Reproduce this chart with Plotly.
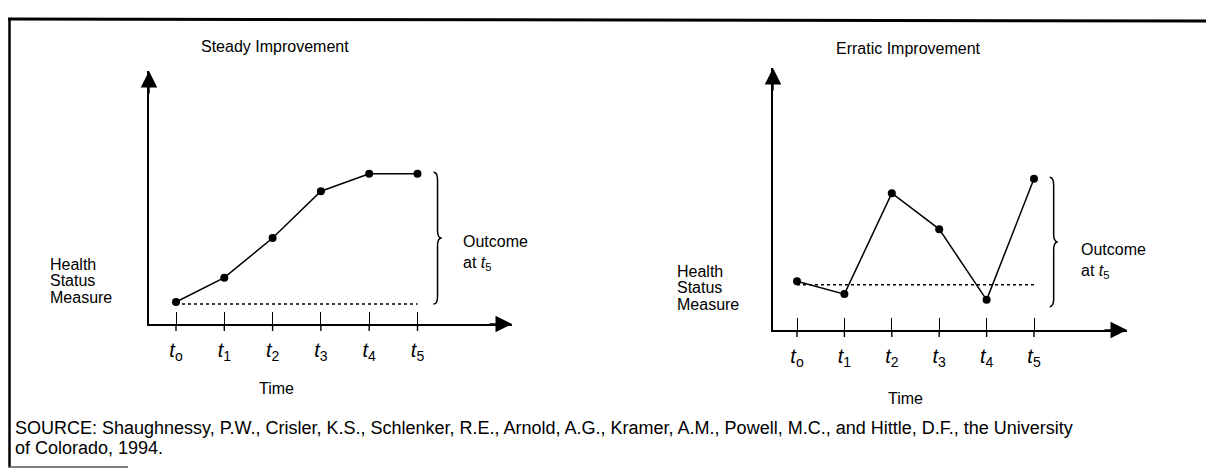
import plotly.graph_objects as go

# ---- data ----
time_labels = ["<i>t</i><sub>o</sub>", "<i>t</i><sub>1</sub>", "<i>t</i><sub>2</sub>",
               "<i>t</i><sub>3</sub>", "<i>t</i><sub>4</sub>", "<i>t</i><sub>5</sub>"]
time_index = [0, 1, 2, 3, 4, 5]
steady_values = [8.7, 18.3, 34.0, 52.5, 59.4, 59.4]
erratic_values = [18.6, 13.7, 52.2, 38.5, 11.5, 57.7]
steady_baseline = 7.9
erratic_baseline = 17.3
panel_titles = ["Steady Improvement", "Erratic Improvement"]
y_label_lines = ["Health", "Status", "Measure"]
outcome_label = "Outcome<br>at <i>t</i><sub>5</sub>"
x_label = "Time"
source_lines = ["SOURCE: Shaughnessy, P.W., Crisler, K.S., Schlenker, R.E., Arnold, A.G., Kramer, A.M., "
                "Powell, M.C., and Hittle, D.F., the University",
                "of Colorado, 1994."]

W, H = 1214, 472
FONT = "Liberation Sans, Arial, sans-serif"
INK = "#000000"


def px(x):
    return x / W


def py(y):
    return 1 - y / H


fig = go.Figure()

# panel geometry (pixels)
panels = [
    dict(vals=steady_values, base=steady_baseline, yx=141, xy=316, tipx=504, topy=63,
         t0=168, dx=48.3, xa="x", ya="y", title_x=267, title_y=38, hx=40, hy=256,
         ox=453, oy=245, time_x=268, time_y=380, brace_pad=0.0),
    dict(vals=erratic_values, base=erratic_baseline, yx=765, xy=322, tipx=1119, topy=60,
         t0=789, dx=47.4, xa="x2", ya="y2", title_x=900, title_y=40, hx=667, hy=263,
         ox=1071, oy=253, time_x=897, time_y=390, brace_pad=2.6),
]

ymax = 100.0
for i, p in enumerate(panels):
    xr = [(p["yx"] - p["t0"]) / p["dx"], (p["tipx"] - p["t0"]) / p["dx"]]
    suffix = "" if i == 0 else "2"
    ax_common = dict(showgrid=False, zeroline=False, showline=True, linecolor=INK, linewidth=1.6)
    fig.layout["xaxis" + suffix] = dict(
        domain=[px(p["yx"]), px(p["tipx"])], range=xr, anchor=p["ya"],
        tickmode="array", tickvals=time_index, ticktext=time_labels,
        ticks="inside", ticklen=12, tickwidth=1.4, tickcolor=INK,
        ticklabelstandoff=7,
        tickfont=dict(family=FONT, size=20, color=INK), **ax_common)
    fig.layout["yaxis" + suffix] = dict(
        domain=[py(p["xy"]), py(p["topy"])], range=[0, ymax], anchor=p["xa"],
        showticklabels=False, ticks="", **ax_common)

    # dotted baseline at starting level
    fig.add_trace(go.Scatter(x=[time_index[0], time_index[-1]], y=[p["base"], p["base"]],
                             mode="lines", line=dict(color=INK, width=1.5, dash="dot"),
                             xaxis=p["xa"], yaxis=p["ya"], hoverinfo="skip", showlegend=False))
    # series
    fig.add_trace(go.Scatter(x=time_index, y=p["vals"], mode="lines+markers",
                             line=dict(color=INK, width=1.5),
                             marker=dict(color=INK, size=8),
                             xaxis=p["xa"], yaxis=p["ya"], cliponaxis=False, showlegend=False))

    # lower part of tick marks (below the axis)
    for t in time_index:
        fig.add_shape(type="line", xref=p["xa"], yref="paper", x0=t, x1=t,
                      y0=py(p["xy"]), y1=py(p["xy"] + 7), line=dict(color=INK, width=1.4))

    # arrowheads
    fig.add_annotation(x=xr[1], y=0, xref=p["xa"], yref=p["ya"], ax=-24, ay=0, text="",
                       showarrow=True, arrowhead=2, arrowsize=2.2, arrowwidth=1.5, arrowcolor=INK)
    fig.add_annotation(x=xr[0], y=ymax, xref=p["xa"], yref=p["ya"], ax=0, ay=24, text="",
                       showarrow=True, arrowhead=2, arrowsize=2.2, arrowwidth=1.5, arrowcolor=INK)

    # brace from final value down to lowest level
    ytop = p["vals"][-1] + 0.6
    ybot = min(min(p["vals"]), p["base"]) - p["brace_pad"]
    x0 = time_index[-1] + 0.33
    w = 0.17
    xm = x0 + w * 0.5
    x1 = x0 + w
    ymid = (ytop + ybot) / 2
    d = 3.0
    path = (f"M {x0},{ytop} Q {xm},{ytop} {xm},{ytop - d} L {xm},{ymid + d} "
            f"Q {xm},{ymid} {x1},{ymid} Q {xm},{ymid} {xm},{ymid - d} "
            f"L {xm},{ybot + d} Q {xm},{ybot} {x0},{ybot}")
    fig.add_shape(type="path", xref=p["xa"], yref=p["ya"], path=path,
                  line=dict(color=INK, width=1.5))

    # texts
    fig.add_annotation(x=px(p["title_x"]), y=py(p["title_y"]), xref="paper", yref="paper",
                       xanchor="center", yanchor="middle",
                       text=panel_titles[i], showarrow=False,
                       font=dict(family=FONT, size=16, color=INK))
    for k, line in enumerate(y_label_lines):
        fig.add_annotation(x=px(p["hx"]), y=py(p["hy"] + 16.5 * k), xref="paper", yref="paper",
                           text=line, showarrow=False, xanchor="left", yanchor="middle",
                           font=dict(family=FONT, size=16, color=INK))
    fig.add_annotation(x=px(p["ox"]), y=py(p["oy"]), xref="paper", yref="paper",
                       text=outcome_label, showarrow=False, xanchor="left", yanchor="middle",
                       align="left", font=dict(family=FONT, size=16, color=INK))
    fig.add_annotation(x=px(p["time_x"]), y=py(p["time_y"]), xref="paper", yref="paper",
                       text=x_label, showarrow=False, xanchor="center", yanchor="middle",
                       font=dict(family=FONT, size=16, color=INK))

# source note
for k, line in enumerate(source_lines):
    fig.add_annotation(x=px(5), y=py(420 + 19.5 * k), xref="paper", yref="paper", text=line,
                       showarrow=False, xanchor="left", yanchor="middle",
                       font=dict(family=FONT, size=18, color=INK))

# frame lines
fig.add_shape(type="line", xref="paper", yref="paper", x0=0, x1=1, y0=py(11), y1=py(13),
              line=dict(color=INK, width=3))
fig.add_shape(type="line", xref="paper", yref="paper", x0=px(1.5), x1=px(1.5), y0=py(11), y1=py(459),
              line=dict(color=INK, width=2.5))
fig.add_shape(type="line", xref="paper", yref="paper", x0=0, x1=px(120), y0=py(459), y1=py(459),
              line=dict(color="#555555", width=1.5))

fig.update_layout(width=W, height=H, margin=dict(l=0, r=0, t=0, b=0),
                  paper_bgcolor="white", plot_bgcolor="white", showlegend=False,
                  font=dict(family=FONT, color=INK))

fig.write_html("out.html")
